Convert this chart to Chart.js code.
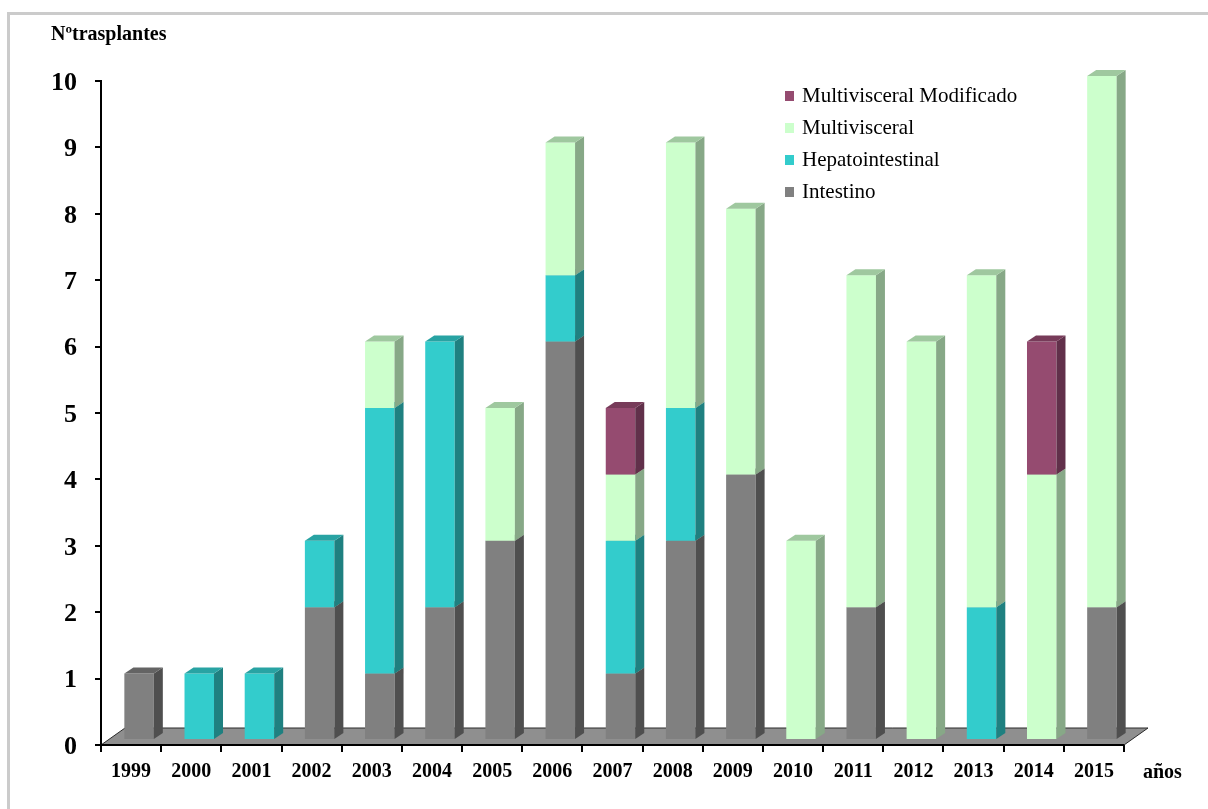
<!DOCTYPE html>
<html>
<head>
<meta charset="utf-8">
<script src="https://cdn.jsdelivr.net/npm/chart.js@4.4.0/dist/chart.umd.min.js"></script>
<style>
    html, body { margin: 0; padding: 0; background: #fff; overflow: hidden; }
    #wrap { position: relative; width: 1208px; height: 809px; }
    #frame { position: absolute; left: 7px; top: 12px; width: 1300px; height: 900px;
             border: 3px solid #cbcbcb; box-sizing: border-box; pointer-events: none; }
</style>
</head>
<body>
<div id="wrap">
    <canvas id="myChart"></canvas>
    <div id="frame"></div>
</div>
<script>
'use strict';

var years = ['1999', '2000', '2001', '2002', '2003', '2004', '2005', '2006', '2007',
             '2008', '2009', '2010', '2011', '2012', '2013', '2014', '2015'];
var intestino        = [1, 0, 0, 2, 1, 2, 3, 6, 1, 3, 4, 0, 2, 0, 0, 0, 2];
var hepatointestinal = [0, 1, 1, 1, 4, 4, 0, 1, 2, 2, 0, 0, 0, 0, 2, 0, 0];
var multivisceral    = [0, 0, 0, 0, 1, 0, 2, 2, 1, 4, 4, 3, 5, 6, 5, 4, 8];
var multivisceralMod = [0, 0, 0, 0, 0, 0, 0, 0, 1, 0, 0, 0, 0, 0, 0, 2, 0];
var yTicks = [0, 1, 2, 3, 4, 5, 6, 7, 8, 9, 10];

var SERIF = "'Liberation Serif', 'Times New Roman', serif";

// box depth of each bar, the shift of the bars back onto the floor, and floor depth
var DEPTH_X = 9, DEPTH_Y = 6;
var SHIFT_X = 8, SHIFT_Y = -5;
var FLOOR_X = 24, FLOOR_Y = 17;

function face(ctx, pts, color) {
    ctx.beginPath();
    ctx.moveTo(pts[0], pts[1]);
    for (var i = 2; i < pts.length; i += 2) {
        ctx.lineTo(pts[i], pts[i + 1]);
    }
    ctx.closePath();
    ctx.fillStyle = color;
    ctx.fill();
}

var boxes3d = {
    id: 'boxes3d',

    beforeDatasetsDraw: function(chart) {
        var ctx = chart.ctx;
        var area = chart.chartArea;
        var y0 = chart.scales.y.getPixelForValue(0);
        ctx.save();
        face(ctx, [area.left, y0, area.right, y0,
                   area.right + FLOOR_X, y0 - FLOOR_Y, area.left + FLOOR_X, y0 - FLOOR_Y], '#8f8f8f');
        ctx.strokeStyle = '#2a2a2a';
        ctx.lineWidth = 1;
        ctx.beginPath();
        ctx.moveTo(area.left, y0);
        ctx.lineTo(area.left + FLOOR_X, y0 - FLOOR_Y);
        ctx.lineTo(area.right + FLOOR_X, y0 - FLOOR_Y);
        ctx.lineTo(area.right, y0);
        ctx.stroke();
        ctx.strokeStyle = '#000';
        ctx.lineWidth = 2;
        ctx.beginPath();
        ctx.moveTo(area.left, y0);
        ctx.lineTo(area.right, y0);
        ctx.stroke();
        ctx.restore();
    },

    // the stacks are drawn below, bottom segment first
    beforeDatasetDraw: function() {
        return false;
    },

    afterDatasetsDraw: function(chart) {
        var ctx = chart.ctx;
        ctx.save();
        ctx.translate(SHIFT_X, SHIFT_Y);
        chart.data.datasets.forEach(function(ds, d) {
            var meta = chart.getDatasetMeta(d);
            meta.data.forEach(function(bar, i) {
                if (!ds.data[i]) {
                    return;
                }
                var p = bar.getProps(['x', 'y', 'base', 'width'], true);
                var x0 = p.x - p.width / 2;
                var x1 = p.x + p.width / 2;
                var top = Math.min(p.y, p.base);
                var bottom = Math.max(p.y, p.base);
                bar.draw(ctx);
                face(ctx, [x1, bottom, x1, top, x1 + DEPTH_X, top - DEPTH_Y,
                           x1 + DEPTH_X, bottom - DEPTH_Y], ds.sideColor);
                face(ctx, [x0, top, x1, top, x1 + DEPTH_X, top - DEPTH_Y,
                           x0 + DEPTH_X, top - DEPTH_Y], ds.topColor);
            });
        });
        ctx.restore();
    },

    afterDraw: function(chart) {
        var ctx = chart.ctx;
        ctx.save();
        ctx.fillStyle = '#000';
        ctx.textBaseline = 'alphabetic';
        ctx.font = 'bold 20px ' + SERIF;
        ctx.fillText('N\u00batrasplantes', 51, 40);
        ctx.fillText('a\u00f1os', 1143, 778);

        // legend, last series on top
        ctx.font = '21px ' + SERIF;
        var items = chart.data.datasets.slice().reverse();
        items.forEach(function(ds, k) {
            var base = 102 + k * 32;
            ctx.fillStyle = ds.backgroundColor;
            ctx.fillRect(785, base - 11, 9, 10);
            ctx.fillStyle = '#000';
            ctx.fillText(ds.label, 802, base);
        });
        ctx.restore();
    }
};

var ctx = document.getElementById('myChart').getContext('2d');
var myChart = new Chart(ctx, {
    type: 'bar',
    data: {
        labels: years,
        datasets: [{
            label: 'Intestino',
            data: intestino,
            backgroundColor: '#808080',
            sideColor: '#4f4f4f',
            topColor: '#646464'
        }, {
            label: 'Hepatointestinal',
            data: hepatointestinal,
            backgroundColor: '#33cccc',
            sideColor: '#1f8080',
            topColor: '#28a3a3'
        }, {
            label: 'Multivisceral',
            data: multivisceral,
            backgroundColor: '#ccffcc',
            sideColor: '#87a887',
            topColor: '#9fc89f'
        }, {
            label: 'Multivisceral Modificado',
            data: multivisceralMod,
            backgroundColor: '#954b70',
            sideColor: '#61304a',
            topColor: '#773b59'
        }]
    },
    options: {
        responsive: true,
        maintainAspectRatio: false,
        animation: false,
        events: [],
        layout: {
            padding: {left: 0, top: 81, right: 84, bottom: 0}
        },
        datasets: {
            bar: {
                barPercentage: 0.49,
                categoryPercentage: 1,
                borderWidth: 0,
                clip: false
            }
        },
        plugins: {
            legend: {display: false},
            tooltip: {enabled: false}
        },
        scales: {
            x: {
                stacked: true,
                afterFit: function(scale) { scale.height = 64; },
                grid: {
                    display: true,
                    drawOnChartArea: false,
                    drawTicks: true,
                    tickLength: 7,
                    color: '#000',
                    lineWidth: 2
                },
                border: {display: true, color: '#000', width: 2},
                ticks: {
                    color: '#000',
                    padding: 8,
                    font: {family: SERIF, size: 20, weight: 'bold'}
                }
            },
            y: {
                stacked: true,
                min: 0,
                max: 10,
                afterFit: function(scale) { scale.width = 101; },
                afterBuildTicks: function(scale) {
                    scale.ticks = yTicks.map(function(v) { return {value: v}; });
                },
                grid: {
                    display: true,
                    drawOnChartArea: false,
                    drawTicks: true,
                    tickLength: 6,
                    color: '#000',
                    lineWidth: 2
                },
                border: {display: true, color: '#000', width: 2},
                ticks: {
                    color: '#000',
                    padding: 18,
                    labelOffset: 2,
                    font: {family: SERIF, size: 26, weight: 'bold'}
                }
            }
        }
    },
    plugins: [boxes3d]
});
</script>
</body>
</html>
